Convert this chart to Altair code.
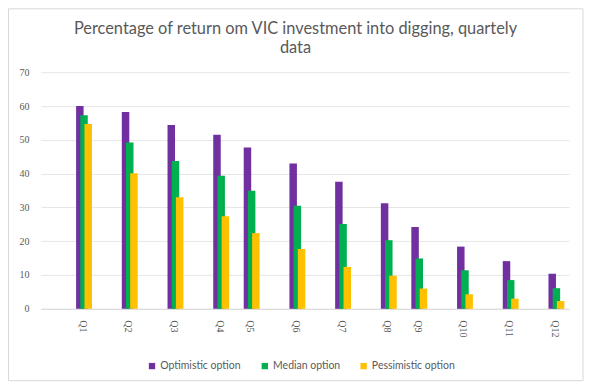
import altair as alt
import pandas as pd

title_lines = ["Percentage of return om VIC investment into digging, quartely", "data"]
quarters = ["Q1", "Q2", "Q3", "Q4", "Q5", "Q6", "Q7", "Q8", "Q9", "Q10", "Q11", "Q12"]
# timing of each quarter in months (date axis, uneven spacing as in the source)
months = [0, 3, 6, 9, 11, 14, 17, 20, 22, 25, 28, 31]
optimistic = [60.0, 58.2, 54.4, 51.5, 47.7, 43.0, 37.6, 31.2, 24.2, 18.4, 14.1, 10.4]
median = [57.3, 49.2, 43.7, 39.4, 34.9, 30.5, 25.1, 20.3, 14.9, 11.4, 8.5, 6.1]
pessimistic = [54.7, 40.1, 33.0, 27.4, 22.4, 17.7, 12.4, 9.8, 6.0, 4.3, 3.0, 2.3]

series_names = ["Optimistic option", "Median option", "Pessimistic option"]
series_values = [optimistic, median, pessimistic]
series_colors = ["#7030A0", "#00B050", "#FFC000"]
series_offsets = [-4.2, 0, 4.2]

rows = []
for name, vals in zip(series_names, series_values):
    for q, m, v in zip(quarters, months, vals):
        rows.append({"quarter": q, "month": m, "series": name, "value": v})
df = pd.DataFrame(rows)

label_map = "{" + ",".join(f"'{m}':'{q}'" for m, q in zip(months, quarters)) + "}"

GRAY = "#595959"

x = alt.X(
    "month:Q",
    scale=alt.Scale(domain=[-2.5, 31.5], nice=False, zero=False),
    axis=alt.Axis(
        values=months,
        labelExpr=f"{label_map}[toString(datum.value)]",
        title=None,
        grid=False,
        ticks=False,
        labelAngle=90,
        labelPadding=11,
        labelOffset=-2,
        domainColor="#d9d9d9",
        labelColor=GRAY,
        labelFont="Liberation Serif",
        labelFontSize=10,
    ),
)
y = alt.Y(
    "value:Q",
    scale=alt.Scale(domain=[0, 70], nice=False),
    axis=alt.Axis(
        values=list(range(0, 71, 10)),
        title=None,
        domain=False,
        ticks=False,
        gridColor="#e6e6e6",
        labelPadding=12,
        labelColor=GRAY,
        labelFont="Liberation Serif",
        labelFontSize=10,
    ),
)
color = alt.Color(
    "series:N",
    scale=alt.Scale(domain=series_names, range=series_colors),
    legend=alt.Legend(
        orient="none",
        legendX=106,
        legendY=289,
        direction="horizontal",
        title=None,
        symbolType="square",
        symbolSize=40,
        symbolStrokeWidth=0,
        labelFont="Lato",
        labelFontSize=10.5,
        labelColor=GRAY,
        labelOffset=3,
        columnPadding=18,
    ),
)

layers = []
for name, off in zip(series_names, series_offsets):
    layers.append(
        alt.Chart(df)
        .transform_filter(alt.datum.series == name)
        .mark_bar(width=7.5, xOffset=off)
        .encode(x=x, y=y, y2=alt.datum(0), color=color)
    )

one_row = pd.DataFrame({"a": [0]})
border = (
    alt.Chart(one_row)
    .mark_rect(filled=False, stroke="#d9d9d9", strokeWidth=1)
    .encode(x=alt.value(-32.5), x2=alt.value(543), y=alt.value(-63.5), y2=alt.value(309))
)

title = (
    alt.Chart(one_row)
    .mark_text(
        font="Lato",
        fontSize=16.4,
        color=GRAY,
        align="center",
        baseline="alphabetic",
        lineBreak="\n",
        lineHeight=19,
    )
    .encode(x=alt.value(255), y=alt.value(-38), text=alt.value("\n".join(title_lines)))
)

chart = (
    alt.layer(border, title, *layers)
    .properties(
        width=529,
        height=237,
        autosize=alt.AutoSizeParams(type="none"),
        padding={"left": 33, "top": 64, "right": 16, "bottom": 75},
    )
    .configure_view(strokeWidth=0)
)

chart.save("out.html", embed_options={"renderer": "svg", "actions": False})
